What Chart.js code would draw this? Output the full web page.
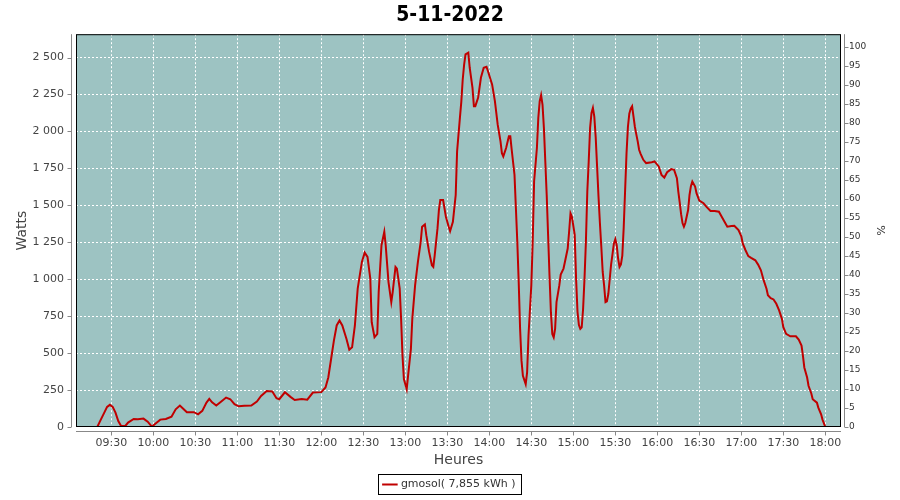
<!DOCTYPE html>
<html>
<head>
<meta charset="utf-8">
<script src="https://cdn.jsdelivr.net/npm/chart.js@4/dist/chart.umd.min.js"></script>
<style>
  html, body { margin: 0; padding: 0; background: #fff; }
  #box { width: 900px; height: 500px; }
</style>
</head>
<body>
<div id="box"><canvas id="courbe"></canvas></div>
<script>
// production gmosol du 5-11-2022
const heures = [
  '09:13','09:20','09:22','09:25','09:27','09:29','09:31','09:33','09:35','09:37',
  '09:40','09:42','09:46','09:49','09:53','09:56','09:59','10:01','10:05','10:09',
  '10:13','10:16','10:19','10:21','10:24','10:29','10:32','10:35','10:38','10:40',
  '10:42','10:45','10:49','10:52','10:55','10:58','11:01','11:05','11:10','11:14',
  '11:17','11:21','11:25','11:28','11:30','11:34','11:38','11:41','11:46','11:50',
  '11:54','12:00','12:03','12:05','12:07','12:09','12:11','12:13','12:15','12:18',
  '12:20','12:22','12:24','12:26','12:29','12:31','12:33','12:35','12:36','12:38',
  '12:40','12:41','12:43','12:45','12:46','12:48','12:50','12:51','12:53','12:54',
  '12:56','12:57','12:58','12:59','13:01','13:02','13:04','13:05','13:07','13:09',
  '13:11','13:12','13:14','13:15','13:17','13:19','13:20','13:21','13:23','13:24',
  '13:25','13:27','13:29','13:31','13:32','13:34','13:36','13:37','13:39','13:40',
  '13:41','13:42','13:43','13:45','13:46','13:48','13:49','13:50','13:52','13:54',
  '13:56','13:58','13:59','14:02','14:04','14:06','14:08','14:09','14:10','14:12',
  '14:14','14:15','14:16','14:18','14:19','14:20','14:21','14:22','14:23','14:24',
  '14:26','14:27','14:28','14:30','14:31','14:32','14:34','14:35','14:36','14:37',
  '14:38','14:39','14:40','14:41','14:42','14:43','14:44','14:45','14:46','14:47',
  '14:48','14:50','14:51','14:53','14:54','14:56','14:57','14:58','14:59','15:01',
  '15:02','15:03','15:04','15:05','15:06','15:07','15:08','15:09','15:10','15:11',
  '15:12','15:13','15:14','15:15','15:16','15:17','15:18','15:19','15:20','15:21',
  '15:22','15:23','15:24','15:25','15:26','15:27','15:28','15:29','15:30','15:31',
  '15:32','15:33','15:34','15:35','15:36','15:37','15:38','15:39','15:40','15:41',
  '15:42','15:43','15:44','15:45','15:46','15:47','15:48','15:50','15:52','15:56',
  '15:58','16:01','16:03','16:05','16:07','16:10','16:12','16:14','16:15','16:16',
  '16:17','16:18','16:19','16:20','16:22','16:23','16:24','16:25','16:27','16:28',
  '16:30','16:33','16:35','16:38','16:41','16:44','16:46','16:48','16:50','16:53',
  '16:55','16:58','17:00','17:01','17:03','17:05','17:07','17:10','17:12','17:14',
  '17:16','17:18','17:19','17:21','17:23','17:25','17:27','17:29','17:30','17:32',
  '17:35','17:39','17:41','17:43','17:44','17:45','17:47','17:48','17:50','17:51',
  '17:54','17:55','17:57','17:58','18:00'
];
const watts = [
  0, 0, 40, 97, 136, 150, 136, 97, 40, 7,
  7, 30, 54, 52, 57, 36, 2, 18, 50, 54,
  70, 120, 145, 127, 100, 100, 86, 109, 165, 190,
  167, 145, 176, 199, 188, 154, 140, 143, 145, 172,
  210, 244, 240, 195, 188, 235, 204, 183, 190, 185,
  233, 236, 267, 335, 460, 585, 687, 720, 687, 596,
  523, 539, 687, 936, 1117, 1180, 1151, 1004, 709, 607,
  630, 913, 1230, 1321, 1230, 981, 845, 913, 1083, 1072,
  936, 732, 483, 324, 256, 347, 528, 732, 958, 1117,
  1253, 1355, 1371, 1298, 1185, 1094, 1083, 1162, 1344, 1468,
  1536, 1536, 1423, 1355, 1326, 1389, 1570, 1865, 2092, 2200,
  2350, 2450, 2522, 2533, 2431, 2295, 2171, 2171, 2227, 2363,
  2431, 2438, 2409, 2318, 2205, 2046, 1933, 1853, 1831, 1888,
  1967, 1967, 1876, 1706, 1480, 1253, 981, 664, 449, 347,
  290, 369, 619, 958, 1253, 1661, 1888, 2092, 2205, 2246,
  2182, 2024, 1797, 1570, 1298, 1027, 777, 630, 607, 664,
  845, 958, 1031, 1072, 1117, 1208, 1321, 1446, 1423, 1300,
  1000, 780, 690, 664, 675, 800, 1004, 1253, 1593, 1797,
  2024, 2126, 2159, 2100, 1960, 1760, 1560, 1380, 1220, 1049,
  958, 845, 850, 900, 1000, 1100, 1170, 1242, 1271, 1230,
  1140, 1083, 1100, 1160, 1350, 1600, 1850, 2030, 2120, 2155,
  2171, 2100, 2030, 1980, 1933, 1876, 1850, 1808, 1786, 1792,
  1797, 1763, 1706, 1688, 1724, 1745, 1740, 1684, 1593, 1520,
  1440, 1380, 1355, 1380, 1468, 1570, 1630, 1661, 1627, 1582,
  1532, 1514, 1491, 1462, 1462, 1457, 1423, 1389, 1355, 1360,
  1362, 1332, 1290, 1242, 1196, 1156, 1144, 1128, 1099, 1060,
  992, 936, 891, 872, 863, 834, 789, 732, 675, 630,
  614, 614, 591, 551, 483, 403, 335, 279, 227, 188,
  165, 131, 86, 50, 0
];
const titre = '5-11-2022';
const libelleSerie = 'gmosol( 7,855 kWh )';

const enMinutes = (h) => {
  const [hh, mm] = h.split(':').map(Number);
  return hh * 60 + mm;
};
const enHeure = (m) => String(Math.floor(m / 60)).padStart(2, '0') + ':' + String(m % 60).padStart(2, '0');
const milliers = (v) => String(v).replace(/\B(?=(\d{3})+(?!\d))/g, ' ');

const points = heures.map((h, i) => ({ x: enMinutes(h), y: watts[i] }));

// fond du graphe, cadre noir et axes gris decales comme sur l'original
const cadre = {
  id: 'cadre',
  beforeDraw(chart) {
    const { ctx, chartArea: a } = chart;
    ctx.save();
    ctx.fillStyle = '#9dc3c2';
    ctx.fillRect(a.left, a.top, a.right - a.left, a.bottom - a.top);
    ctx.restore();
  },
  afterDraw(chart) {
    const { ctx, chartArea: a, scales } = chart;
    ctx.save();
    ctx.strokeStyle = '#000';
    ctx.lineWidth = 1;
    ctx.strokeRect(a.left + 0.5, a.top + 0.5, a.right - a.left - 1, a.bottom - a.top - 1);

    ctx.strokeStyle = '#888';
    const xg = a.left - 4.5, xd = a.right + 3.5, yb = a.bottom + 4.5;
    ctx.beginPath();
    ctx.moveTo(xg, a.top); ctx.lineTo(xg, a.bottom);
    ctx.moveTo(xd, a.top); ctx.lineTo(xd, a.bottom);
    ctx.moveTo(a.left, yb); ctx.lineTo(a.right, yb);
    scales.y.ticks.forEach(t => {
      const p = Math.round(scales.y.getPixelForValue(t.value)) + 0.5;
      ctx.moveTo(xg - 4, p); ctx.lineTo(xg, p);
    });
    scales.y1.ticks.forEach(t => {
      const p = Math.round(scales.y1.getPixelForValue(t.value)) + 0.5;
      ctx.moveTo(xd, p); ctx.lineTo(xd + 4, p);
    });
    scales.x.ticks.forEach(t => {
      const p = Math.round(scales.x.getPixelForValue(t.value)) + 0.5;
      ctx.moveTo(p, yb); ctx.lineTo(p, yb + 4);
    });
    ctx.stroke();

    // cadre de la legende
    const lg = chart.legend;
    if (lg && lg.legendHitBoxes.length) {
      const b = lg.legendHitBoxes[0];
      ctx.strokeStyle = '#000';
      ctx.strokeRect(Math.round(b.left) - 5.5, Math.round(b.top) - 4.5, Math.round(b.width) + 12, Math.round(b.height) + 9);
    }
    ctx.restore();
  }
};

const ctx = document.getElementById('courbe').getContext('2d');
new Chart(ctx, {
  type: 'line',
  data: {
    datasets: [{
      label: libelleSerie,
      data: points,
      borderColor: '#c00000',
      backgroundColor: '#c00000',
      borderWidth: 2,
      pointRadius: 0,
      tension: 0,
      fill: false,
      yAxisID: 'y'
    }]
  },
  options: {
    responsive: true,
    maintainAspectRatio: false,
    animation: false,
    layout: { padding: { left: 0, right: 0, top: 0, bottom: 0 } },
    plugins: {
      title: {
        display: true,
        text: titre,
        color: '#000',
        font: { family: "'DejaVu Sans Condensed', 'DejaVu Sans'", size: 21, weight: 'bold' },
        padding: { top: 3, bottom: 6 }
      },
      legend: {
        position: 'bottom',
        labels: {
          color: '#333',
          font: { family: 'DejaVu Sans', size: 11 },
          usePointStyle: true,
          pointStyle: 'line',
          boxWidth: 14,
          padding: 7
        }
      },
      tooltip: { enabled: false }
    },
    scales: {
      x: {
        type: 'linear',
        min: 544.8,
        max: 1091.2,
        afterFit: (s) => { s.height = 45; },
        ticks: {
          stepSize: 30,
          includeBounds: false,
          padding: 10,
          maxRotation: 0,
          color: '#444',
          font: { family: 'DejaVu Sans', size: 11 },
          callback: (v) => enHeure(v)
        },
        grid: { color: '#fff', lineWidth: 1, drawTicks: false },
        border: { display: false, dash: [2, 2] },
        title: {
          display: true,
          text: 'Heures',
          color: '#444',
          font: { family: 'DejaVu Sans', size: 14 },
          padding: { top: 2, bottom: 3 }
        }
      },
      y: {
        position: 'left',
        min: 0,
        max: 2658,
        afterFit: (s) => { s.width = 76; },
        ticks: {
          stepSize: 250,
          includeBounds: false,
          padding: 12,
          color: '#444',
          font: { family: 'DejaVu Sans', size: 11 },
          callback: (v) => milliers(v)
        },
        grid: { color: '#fff', lineWidth: 1, drawTicks: false },
        border: { display: false, dash: [2, 2] },
        title: {
          display: true,
          text: 'Watts',
          color: '#444',
          font: { family: 'DejaVu Sans', size: 14 },
          padding: { top: 14, bottom: 0 }
        }
      },
      y1: {
        position: 'right',
        min: 0,
        max: 103.4,
        afterFit: (s) => { s.width = 59; },
        ticks: {
          stepSize: 5,
          includeBounds: false,
          padding: 8,
          color: '#333',
          font: { family: 'DejaVu Sans', size: 9 }
        },
        grid: { display: false, drawTicks: false },
        border: { display: false },
        title: {
          display: true,
          text: '%',
          color: '#333',
          font: { family: 'DejaVu Sans', size: 11 },
          padding: { top: 14, bottom: 0 }
        }
      }
    }
  },
  plugins: [cadre]
});
</script>
</body>
</html>
